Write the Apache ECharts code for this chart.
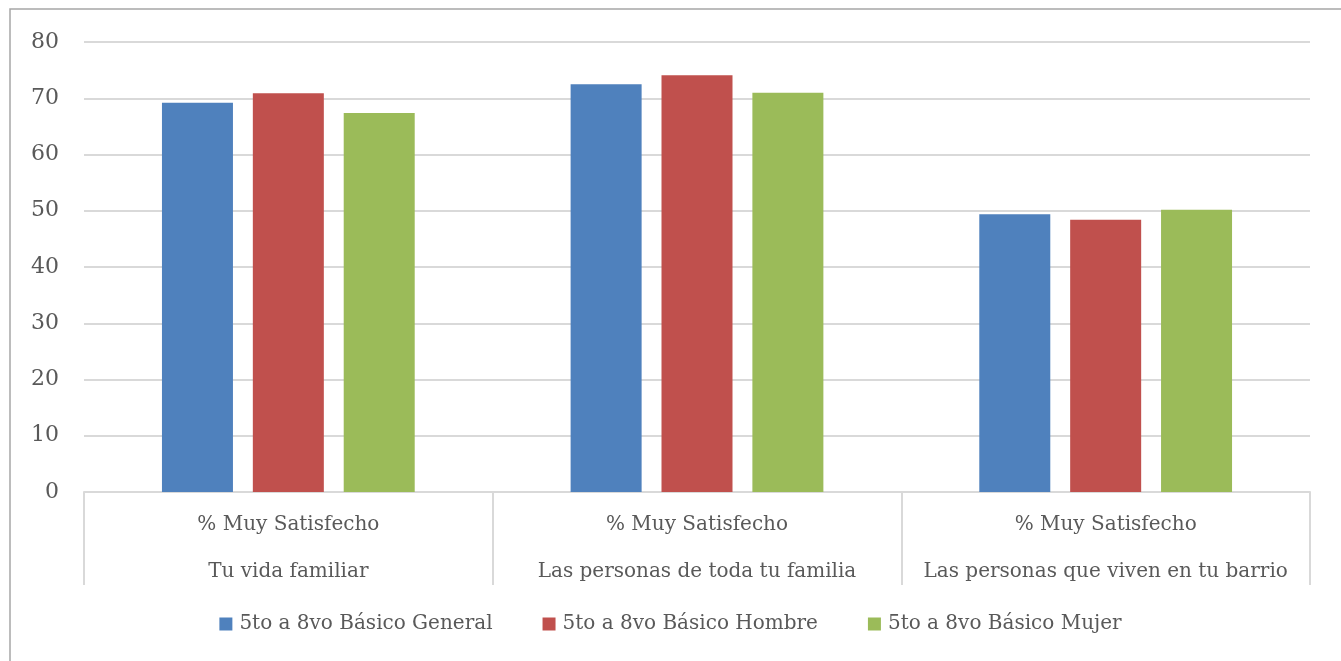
<!DOCTYPE html>
<html>
<head>
<meta charset="utf-8">
<script src="https://cdn.jsdelivr.net/npm/echarts@6/dist/echarts.min.js"></script>
<style>
  html, body { margin: 0; padding: 0; background: #fff; }
  #chart { width: 1341px; height: 661px; }
</style>
</head>
<body>
<div id="chart"></div>
<script>
// categorias (dos niveles como en Excel)
const topLabels = ['% Muy Satisfecho', '% Muy Satisfecho', '% Muy Satisfecho'];
const categories = ['Tu vida familiar', 'Las personas de toda tu familia', 'Las personas que viven en tu barrio'];
const seriesNames = ['5to a 8vo Básico General', '5to a 8vo Básico Hombre', '5to a 8vo Básico Mujer'];
const general = [69.2, 72.5, 49.4];
const hombre = [70.9, 74.1, 48.4];
const mujer = [67.4, 71.0, 50.2];
const colors = ['#4f81bd', '#c0504d', '#9bbb59'];
const yTicks = [0, 10, 20, 30, 40, 50, 60, 70, 80];

const font = '"DejaVu Serif", serif';
const textColor = '#595959';

let myChart = echarts.init(document.getElementById('chart'));
const values = [general, hombre, mujer];

myChart.setOption({
    animation: false,
    textStyle: { fontFamily: font },
    graphic: [{
        type: 'rect',
        shape: { x: 10, y: 9, width: 1400, height: 700 },
        style: { fill: 'none', stroke: '#a6a6a6', lineWidth: 1.5 },
        z: -1
    }],
    legend: {
        bottom: 22,
        left: 'center',
        itemWidth: 13,
        itemHeight: 13,
        itemGap: 50,
        icon: 'rect',
        textStyle: { fontFamily: font, fontSize: 20, color: textColor, padding: [0, 0, 0, 2] },
        data: seriesNames
    },
    grid: {
        left: 84,
        right: 31,
        top: 42,
        bottom: 169
    },
    xAxis: {
        type: 'category',
        data: categories.map((c, i) => topLabels[i] + '\n' + c),
        axisLine: { lineStyle: { color: '#d9d9d9', width: 2 } },
        axisTick: { show: true, interval: 0, length: 93, lineStyle: { color: '#d9d9d9', width: 2 } },
        axisLabel: {
            interval: 0,
            margin: 9,
            fontFamily: font,
            fontSize: 20,
            color: textColor,
            lineHeight: 47
        }
    },
    yAxis: {
        type: 'value',
        min: yTicks[0],
        max: yTicks[yTicks.length - 1],
        interval: 10,
        axisLine: { show: false },
        axisTick: { show: false },
        axisLabel: { fontFamily: font, fontSize: 22, color: textColor, margin: 25 },
        splitLine: { lineStyle: { color: '#d9d9d9', width: 2 } }
    },
    series: seriesNames.map((name, i) => ({
        name: name,
        type: 'bar',
        data: values[i],
        barWidth: 71,
        barGap: '28%',
        itemStyle: { color: colors[i] }
    }))
});
</script>
</body>
</html>
